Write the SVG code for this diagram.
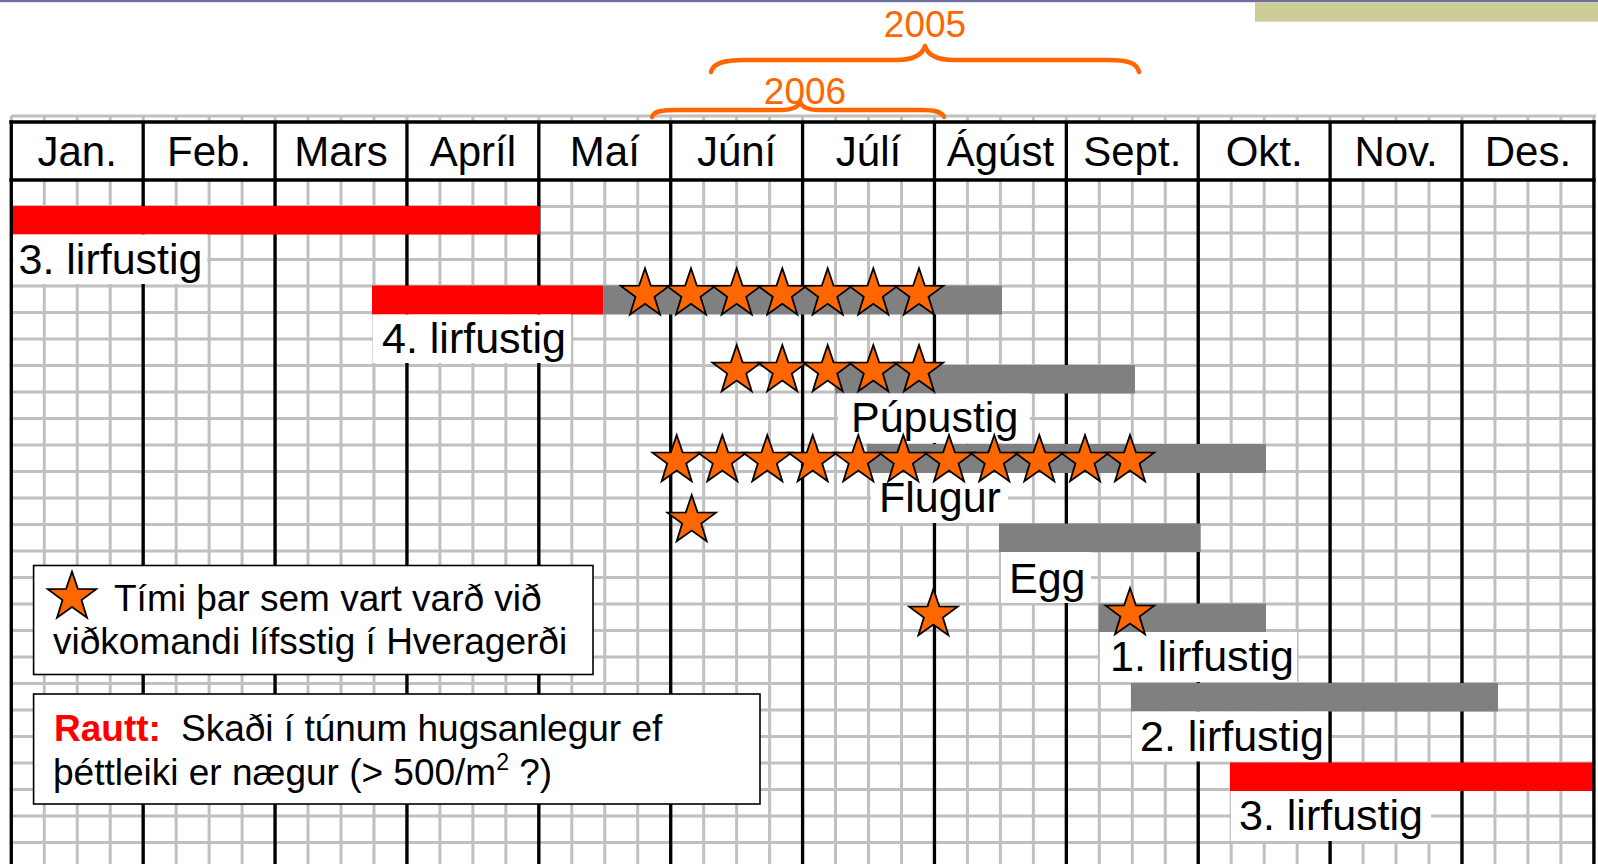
<svg xmlns="http://www.w3.org/2000/svg" xmlns:xlink="http://www.w3.org/1999/xlink" width="1598" height="864" viewBox="0 0 1598 864">
<defs>
<style>
text{font-family:"Liberation Sans",Arial,sans-serif;fill:#000}
.hdr{font-size:42px;text-anchor:middle}
.lbl{font-size:43px}
.leg{font-size:37px}
.yr{font-size:37px;fill:#ff6600;text-anchor:middle}
.grid{stroke:#c0c0c0;stroke-width:3;fill:none}
.mline{stroke:#000;stroke-width:3.3;fill:none}
.red{fill:#ff0000}
.gry{fill:#808080}
.wb{fill:#fff}
.box{fill:#fff;stroke:#000;stroke-width:1.6}
.brace{fill:none;stroke:#ff6600;stroke-width:4.5;stroke-linecap:round;stroke-linejoin:round}
</style>
<path id="star" d="M0,-25.5 L5.88,-8.09 L24.25,-7.88 L9.51,3.09 L14.99,20.63 L0,10 L-14.99,20.63 L-9.51,3.09 L-24.25,-7.88 L-5.88,-8.09 Z" fill="#ff6600" stroke="#000" stroke-width="1.8" stroke-linejoin="miter"/>
</defs>
<rect width="1598" height="864" fill="#fff"/>
<g id="topdeco">
<rect x="0" y="0" width="1598" height="2.2" fill="#6f6fa0"/>
<rect x="1255" y="2.2" width="343" height="19.5" fill="#cccc99"/>
</g>
<g id="grid">
<path class="grid" d="M11.3,116V864M44.27,116V864M77.24,116V864M110.21,116V864M143.18,116V864M176.15,116V864M209.12,116V864M242.09,116V864M275.06,116V864M308.03,116V864M341,116V864M373.97,116V864M406.94,116V864M439.91,116V864M472.88,116V864M505.85,116V864M538.82,116V864M571.79,116V864M604.76,116V864M637.73,116V864M670.7,116V864M703.67,116V864M736.64,116V864M769.61,116V864M802.58,116V864M835.55,116V864M868.52,116V864M901.49,116V864M934.46,116V864M967.43,116V864M1000.4,116V864M1033.37,116V864M1066.34,116V864M1099.31,116V864M1132.28,116V864M1165.25,116V864M1198.22,116V864M1231.19,116V864M1264.16,116V864M1297.13,116V864M1330.1,116V864M1363.07,116V864M1396.04,116V864M1429.01,116V864M1461.98,116V864M1494.95,116V864M1527.92,116V864M1560.89,116V864M1593.86,116V864"/>
<path class="grid" d="M11.3,116H1596M11.3,206.5H1596M11.3,233H1596M11.3,259.5H1596M11.3,286H1596M11.3,312.5H1596M11.3,339H1596M11.3,365.5H1596M11.3,392H1596M11.3,418.5H1596M11.3,445H1596M11.3,471.5H1596M11.3,498H1596M11.3,524.5H1596M11.3,551H1596M11.3,577.5H1596M11.3,604H1596M11.3,630.5H1596M11.3,657H1596M11.3,683.5H1596M11.3,710H1596M11.3,736.5H1596M11.3,763H1596M11.3,789.5H1596M11.3,816H1596M11.3,842.5H1596"/>
<rect x="11.3" y="122" width="1582.6" height="58" fill="#fff"/>
<path class="mline" d="M143.18,122V864M275.06,122V864M406.94,122V864M538.82,122V864M670.7,122V864M802.58,122V864M934.46,122V864M1066.34,122V864M1198.22,122V864M1330.1,122V864M1461.98,122V864"/>
</g>
<g id="bars">
<rect class="red" x="11.3" y="206" width="528.7" height="28.5"/>
<rect class="red" x="372" y="285.5" width="231.3" height="29"/>
<rect class="gry" x="603.3" y="285.5" width="398.7" height="29"/>
<rect class="gry" x="835" y="365" width="300" height="28.5"/>
<rect class="gry" x="866.7" y="444" width="399.3" height="29"/>
<rect class="gry" x="999" y="523.5" width="201.7" height="28.5"/>
<rect class="gry" x="1098.5" y="603.5" width="167.5" height="28.5"/>
<rect class="gry" x="1131" y="683" width="367" height="28.5"/>
<rect class="red" x="1230" y="762.5" width="363.8" height="28.5"/>
</g>
<g id="labels">
<g id="lbl-3a"><rect class="wb" x="13.3" y="234.5" width="194" height="49.5"/><text class="lbl" x="18.5" y="273.5">3. lirfustig</text></g>
<g id="lbl-4"><rect class="wb" x="373" y="314.5" width="198" height="48.5"/><text class="lbl" x="382" y="353.3">4. lirfustig</text></g>
<g id="lbl-pupa"><rect class="wb" x="838" y="393.5" width="192" height="49.5"/><text class="lbl" x="851" y="431.7">Púpustig</text></g>
<g id="lbl-flugur"><rect class="wb" x="871" y="473" width="137" height="50"/><text class="lbl" x="879" y="511.7">Flugur</text></g>
<g id="lbl-egg"><rect class="wb" x="1001" y="552" width="90" height="51"/><text class="lbl" x="1009" y="593">Egg</text></g>
<g id="lbl-1"><rect class="wb" x="1100" y="632" width="197" height="50"/><text class="lbl" x="1110" y="671">1. lirfustig</text></g>
<g id="lbl-2"><rect class="wb" x="1132" y="711.5" width="196" height="50"/><text class="lbl" x="1140" y="751">2. lirfustig</text></g>
<g id="lbl-3b"><rect class="wb" x="1231" y="791" width="200" height="50"/><text class="lbl" x="1239" y="830">3. lirfustig</text></g>
</g>
<g id="stars">
<use xlink:href="#star" href="#star" x="645" y="293.8"/>
<use xlink:href="#star" href="#star" x="691" y="293.8"/>
<use xlink:href="#star" href="#star" x="736.7" y="293.8"/>
<use xlink:href="#star" href="#star" x="782.3" y="293.8"/>
<use xlink:href="#star" href="#star" x="827.7" y="293.8"/>
<use xlink:href="#star" href="#star" x="873.3" y="293.8"/>
<use xlink:href="#star" href="#star" x="919" y="293.8"/>
<use xlink:href="#star" href="#star" x="736.7" y="370.5"/>
<use xlink:href="#star" href="#star" x="782.3" y="370.5"/>
<use xlink:href="#star" href="#star" x="827.7" y="370.5"/>
<use xlink:href="#star" href="#star" x="873.3" y="370.5"/>
<use xlink:href="#star" href="#star" x="919" y="370.5"/>
<use xlink:href="#star" href="#star" x="676.7" y="460.5"/>
<use xlink:href="#star" href="#star" x="722.3" y="460.5"/>
<use xlink:href="#star" href="#star" x="767.3" y="460.5"/>
<use xlink:href="#star" href="#star" x="812.7" y="460.5"/>
<use xlink:href="#star" href="#star" x="858.3" y="460.5"/>
<use xlink:href="#star" href="#star" x="903.3" y="460.5"/>
<use xlink:href="#star" href="#star" x="949" y="460.5"/>
<use xlink:href="#star" href="#star" x="994.3" y="460.5"/>
<use xlink:href="#star" href="#star" x="1039.3" y="460.5"/>
<use xlink:href="#star" href="#star" x="1085" y="460.5"/>
<use xlink:href="#star" href="#star" x="1130" y="460.5"/>
<use xlink:href="#star" href="#star" x="691.7" y="520.5"/>
<use xlink:href="#star" href="#star" x="933.4" y="614.5"/>
<use xlink:href="#star" href="#star" x="1130" y="613.5"/>
</g>
<g id="legend-star">
<rect class="box" x="33.6" y="565.5" width="559.4" height="109"/>
<use xlink:href="#star" href="#star" x="72" y="597"/>
<text class="leg" x="114" y="611">Tími þar sem vart varð við</text>
<text class="leg" x="53" y="654">viðkomandi lífsstig í Hveragerði</text>
</g>
<g id="legend-red">
<rect class="box" x="33.6" y="694" width="726.4" height="110"/>
<text class="leg" x="54" y="741"><tspan fill="#ff0000" font-weight="bold">Rautt:</tspan><tspan x="181">Skaði í túnum hugsanlegur ef</tspan></text>
<text class="leg" x="53" y="785">þéttleiki er nægur (&gt; 500/m<tspan font-size="23" dy="-15">2</tspan><tspan dy="15"> ?)</tspan></text>
</g>
<g id="frame">
<path class="mline" d="M11.3,120.5V864" stroke-width="4"/>
<path class="mline" d="M1593.9,120.5V864" stroke-width="3.4"/>
<path class="mline" d="M9.3,122H1595.6" stroke-width="3.2"/>
<path class="mline" d="M9.3,180H1595.6" stroke-width="5.5"/>
</g>
<g id="header">
<text class="hdr" x="77.2" y="166">Jan.</text>
<text class="hdr" x="209.1" y="166">Feb.</text>
<text class="hdr" x="341" y="166">Mars</text>
<text class="hdr" x="472.9" y="166">Apríl</text>
<text class="hdr" x="604.8" y="166">Maí</text>
<text class="hdr" x="736.6" y="166">Júní</text>
<text class="hdr" x="868.5" y="166">Júlí</text>
<text class="hdr" x="1000.4" y="166">Ágúst</text>
<text class="hdr" x="1132.3" y="166">Sept.</text>
<text class="hdr" x="1264.2" y="166">Okt.</text>
<text class="hdr" x="1396" y="166">Nov.</text>
<text class="hdr" x="1527.9" y="166">Des.</text>
</g>
<g id="connectors">
<path class="brace" d="M711,72 C713,63 724,60 744,60 L896,60 C912,60 922,56 925,46 C928,56 938,60 954,60 L1108,60 C1128,60 1137,63 1139,72"/>
<path class="brace" d="M652,117 C654,111 662,110 678,110 L780,110 C793,110 799,107 800,101 C801,107 807,110 820,110 L922,110 C936,110 942,112 944,117"/>
</g>
<g id="years">
<text class="yr" x="925" y="37">2005</text>
<text class="yr" x="805" y="104">2006</text>
</g>
</svg>
